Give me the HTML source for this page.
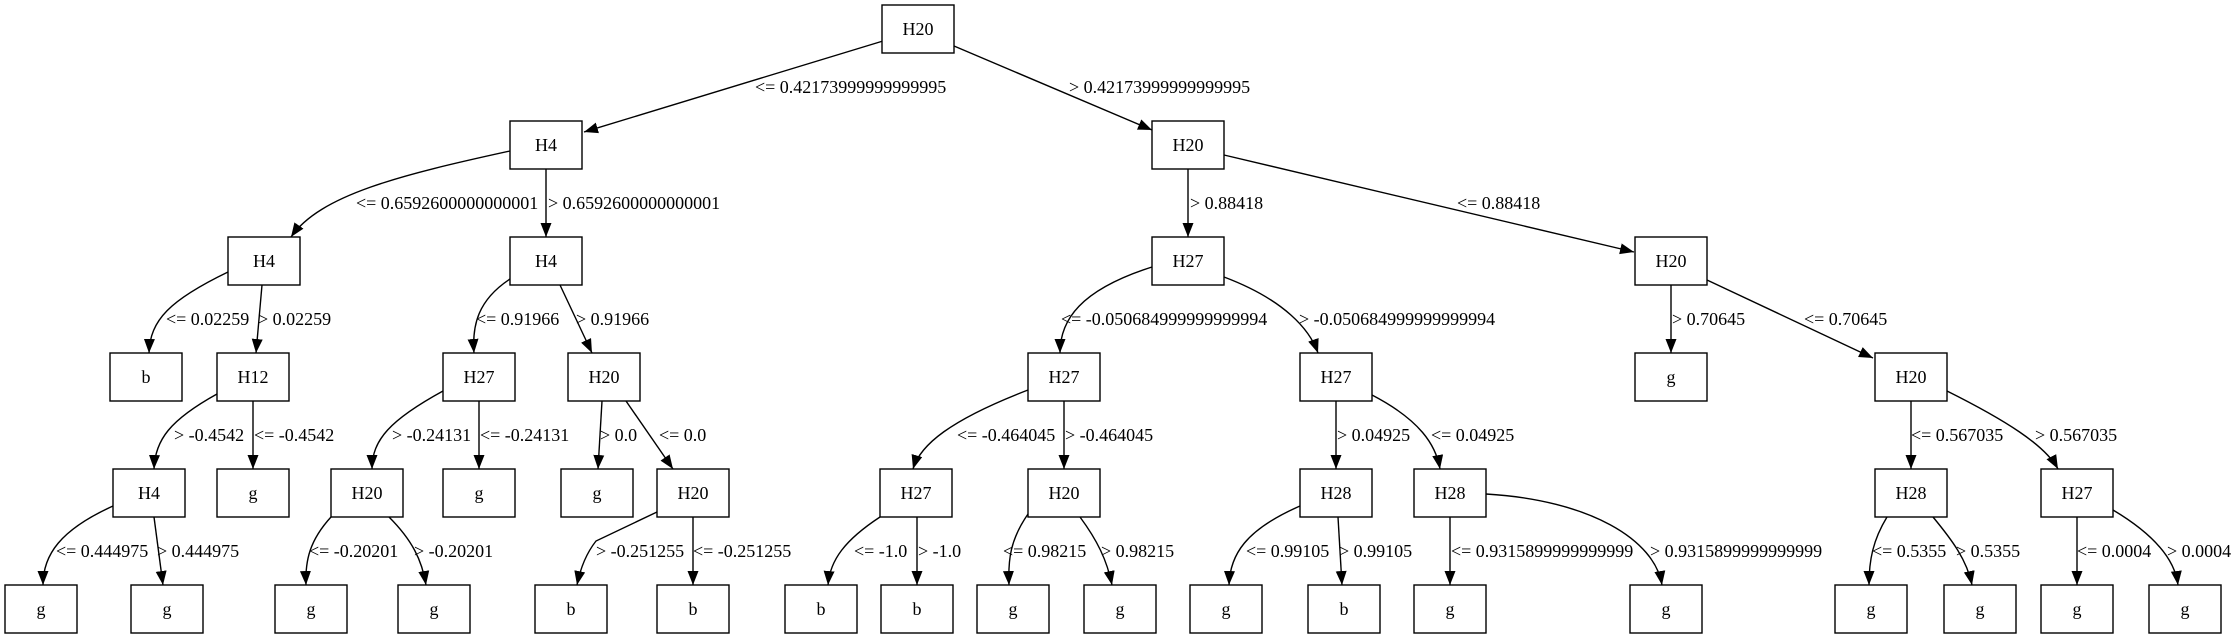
<!DOCTYPE html>
<html><head><meta charset="utf-8"><style>
html,body{margin:0;padding:0;background:#fff;}
svg{display:block;}
text{font-family:"Liberation Serif",serif;font-size:18px;fill:#000;}
.n{fill:#fff;stroke:#000;stroke-width:1.4;}
.e{fill:none;stroke:#000;stroke-width:1.4;}
</style></head><body>
<svg width="2240" height="639" viewBox="0 0 2240 639" xmlns="http://www.w3.org/2000/svg">
<defs><marker id="a" markerUnits="userSpaceOnUse" markerWidth="16" markerHeight="12" refX="14" refY="5.5" orient="auto"><path d="M0,0 L14,5.5 L0,11 Z" fill="#000"/></marker></defs>
<g class="e" marker-end="url(#a)">
<path d="M883,41 L584,132"/>
<path d="M954,46 L1152,130"/>
<path d="M510,151 C400,175 320,195 291,237"/>
<path d="M546,169 L546,237"/>
<path d="M228,272 C170,300 150,320 149,353"/>
<path d="M262,285 L256,353"/>
<path d="M510,279 C478,300 472,325 474,353"/>
<path d="M560,285 L592,353"/>
<path d="M217,394 C170,420 155,440 154,469"/>
<path d="M253,401 L253,469"/>
<path d="M443,391 C390,420 372,440 372,469"/>
<path d="M479,401 L479,469"/>
<path d="M602,401 L598,469"/>
<path d="M626,401 L673,469"/>
<path d="M113,506 C60,530 43,555 43,585"/>
<path d="M154,517 L163,585"/>
<path d="M331,517 C310,540 305,560 306,585"/>
<path d="M389,517 C412,540 422,560 426,585"/>
<path d="M657,512 L596,541 C585,555 580,570 577,585"/>
<path d="M693,517 L693,585"/>
<path d="M1188,169 L1188,237"/>
<path d="M1224,155 L1634,252"/>
<path d="M1152,267 C1080,290 1060,320 1060,353"/>
<path d="M1224,277 C1285,300 1310,330 1318,353"/>
<path d="M1671,285 L1671,353"/>
<path d="M1707,280 L1873,358"/>
<path d="M1028,390 C950,420 920,445 913,469"/>
<path d="M1064,401 L1064,469"/>
<path d="M1336,401 L1336,469"/>
<path d="M1372,395 C1420,420 1436,445 1440,469"/>
<path d="M1911,401 L1911,469"/>
<path d="M1947,391 C2005,420 2045,445 2058,469"/>
<path d="M880,517 C845,540 830,560 828,585"/>
<path d="M917,517 L917,585"/>
<path d="M1028,514 C1010,540 1008,560 1009,585"/>
<path d="M1080,517 C1097,540 1107,560 1112,585"/>
<path d="M1300,506 C1245,530 1230,555 1229,585"/>
<path d="M1338,517 L1342,585"/>
<path d="M1450,517 L1450,585"/>
<path d="M1486,494 C1590,500 1655,540 1662,585"/>
<path d="M1887,517 C1873,540 1869,560 1869,585"/>
<path d="M1933,517 C1952,540 1967,560 1972,585"/>
<path d="M2077,517 L2077,585"/>
<path d="M2113,510 C2155,535 2175,560 2178,585"/>
</g>
<g>
<rect class="n" x="882" y="5" width="72" height="48"/>
<rect class="n" x="510" y="121" width="72" height="48"/>
<rect class="n" x="1152" y="121" width="72" height="48"/>
<rect class="n" x="228" y="237" width="72" height="48"/>
<rect class="n" x="510" y="237" width="72" height="48"/>
<rect class="n" x="1152" y="237" width="72" height="48"/>
<rect class="n" x="1635" y="237" width="72" height="48"/>
<rect class="n" x="110" y="353" width="72" height="48"/>
<rect class="n" x="217" y="353" width="72" height="48"/>
<rect class="n" x="443" y="353" width="72" height="48"/>
<rect class="n" x="568" y="353" width="72" height="48"/>
<rect class="n" x="1028" y="353" width="72" height="48"/>
<rect class="n" x="1300" y="353" width="72" height="48"/>
<rect class="n" x="1635" y="353" width="72" height="48"/>
<rect class="n" x="1875" y="353" width="72" height="48"/>
<rect class="n" x="113" y="469" width="72" height="48"/>
<rect class="n" x="217" y="469" width="72" height="48"/>
<rect class="n" x="331" y="469" width="72" height="48"/>
<rect class="n" x="443" y="469" width="72" height="48"/>
<rect class="n" x="561" y="469" width="72" height="48"/>
<rect class="n" x="657" y="469" width="72" height="48"/>
<rect class="n" x="880" y="469" width="72" height="48"/>
<rect class="n" x="1028" y="469" width="72" height="48"/>
<rect class="n" x="1300" y="469" width="72" height="48"/>
<rect class="n" x="1414" y="469" width="72" height="48"/>
<rect class="n" x="1875" y="469" width="72" height="48"/>
<rect class="n" x="2041" y="469" width="72" height="48"/>
<rect class="n" x="5" y="585" width="72" height="48"/>
<rect class="n" x="131" y="585" width="72" height="48"/>
<rect class="n" x="275" y="585" width="72" height="48"/>
<rect class="n" x="398" y="585" width="72" height="48"/>
<rect class="n" x="535" y="585" width="72" height="48"/>
<rect class="n" x="657" y="585" width="72" height="48"/>
<rect class="n" x="785" y="585" width="72" height="48"/>
<rect class="n" x="881" y="585" width="72" height="48"/>
<rect class="n" x="977" y="585" width="72" height="48"/>
<rect class="n" x="1084" y="585" width="72" height="48"/>
<rect class="n" x="1190" y="585" width="72" height="48"/>
<rect class="n" x="1308" y="585" width="72" height="48"/>
<rect class="n" x="1414" y="585" width="72" height="48"/>
<rect class="n" x="1630" y="585" width="72" height="48"/>
<rect class="n" x="1835" y="585" width="72" height="48"/>
<rect class="n" x="1944" y="585" width="72" height="48"/>
<rect class="n" x="2041" y="585" width="72" height="48"/>
<rect class="n" x="2149" y="585" width="72" height="48"/>
</g>
<g text-anchor="middle">
<text x="918" y="35">H20</text>
<text x="546" y="151">H4</text><text x="1188" y="151">H20</text>
<text x="264" y="267">H4</text><text x="546" y="267">H4</text><text x="1188" y="267">H27</text><text x="1671" y="267">H20</text>
<text x="146" y="383">b</text><text x="253" y="383">H12</text><text x="479" y="383">H27</text><text x="604" y="383">H20</text><text x="1064" y="383">H27</text><text x="1336" y="383">H27</text><text x="1671" y="383">g</text><text x="1911" y="383">H20</text>
<text x="149" y="499">H4</text><text x="253" y="499">g</text><text x="367" y="499">H20</text><text x="479" y="499">g</text><text x="597" y="499">g</text><text x="693" y="499">H20</text><text x="916" y="499">H27</text><text x="1064" y="499">H20</text><text x="1336" y="499">H28</text><text x="1450" y="499">H28</text><text x="1911" y="499">H28</text><text x="2077" y="499">H27</text>
<text x="41" y="615">g</text><text x="167" y="615">g</text><text x="311" y="615">g</text><text x="434" y="615">g</text><text x="571" y="615">b</text><text x="693" y="615">b</text><text x="821" y="615">b</text><text x="917" y="615">b</text><text x="1013" y="615">g</text><text x="1120" y="615">g</text><text x="1226" y="615">g</text><text x="1344" y="615">b</text><text x="1450" y="615">g</text><text x="1666" y="615">g</text><text x="1871" y="615">g</text><text x="1980" y="615">g</text><text x="2077" y="615">g</text><text x="2185" y="615">g</text>
</g>
<g>
<text x="755" y="93">&lt;= 0.42173999999999995</text>
<text x="1069" y="93">&gt; 0.42173999999999995</text>
<text x="356" y="209">&lt;= 0.6592600000000001</text>
<text x="548" y="209">&gt; 0.6592600000000001</text>
<text x="1190" y="209">&gt; 0.88418</text>
<text x="1457" y="209">&lt;= 0.88418</text>
<text x="166" y="325">&lt;= 0.02259</text>
<text x="258" y="325">&gt; 0.02259</text>
<text x="476" y="325">&lt;= 0.91966</text>
<text x="576" y="325">&gt; 0.91966</text>
<text x="1061" y="325">&lt;= -0.050684999999999994</text>
<text x="1299" y="325">&gt; -0.050684999999999994</text>
<text x="1672" y="325">&gt; 0.70645</text>
<text x="1804" y="325">&lt;= 0.70645</text>
<text x="174" y="441">&gt; -0.4542</text>
<text x="254" y="441">&lt;= -0.4542</text>
<text x="392" y="441">&gt; -0.24131</text>
<text x="480" y="441">&lt;= -0.24131</text>
<text x="600" y="441">&gt; 0.0</text>
<text x="659" y="441">&lt;= 0.0</text>
<text x="957" y="441">&lt;= -0.464045</text>
<text x="1065" y="441">&gt; -0.464045</text>
<text x="1337" y="441">&gt; 0.04925</text>
<text x="1431" y="441">&lt;= 0.04925</text>
<text x="1911" y="441">&lt;= 0.567035</text>
<text x="2035" y="441">&gt; 0.567035</text>
<text x="56" y="557">&lt;= 0.444975</text>
<text x="157" y="557">&gt; 0.444975</text>
<text x="309" y="557">&lt;= -0.20201</text>
<text x="414" y="557">&gt; -0.20201</text>
<text x="596" y="557">&gt; -0.251255</text>
<text x="693" y="557">&lt;= -0.251255</text>
<text x="854" y="557">&lt;= -1.0</text>
<text x="918" y="557">&gt; -1.0</text>
<text x="1003" y="557">&lt;= 0.98215</text>
<text x="1101" y="557">&gt; 0.98215</text>
<text x="1246" y="557">&lt;= 0.99105</text>
<text x="1339" y="557">&gt; 0.99105</text>
<text x="1451" y="557">&lt;= 0.9315899999999999</text>
<text x="1650" y="557">&gt; 0.9315899999999999</text>
<text x="1872" y="557">&lt;= 0.5355</text>
<text x="1956" y="557">&gt; 0.5355</text>
<text x="2077" y="557">&lt;= 0.0004</text>
<text x="2167" y="557">&gt; 0.0004</text>
</g>
</svg>
</body></html>
